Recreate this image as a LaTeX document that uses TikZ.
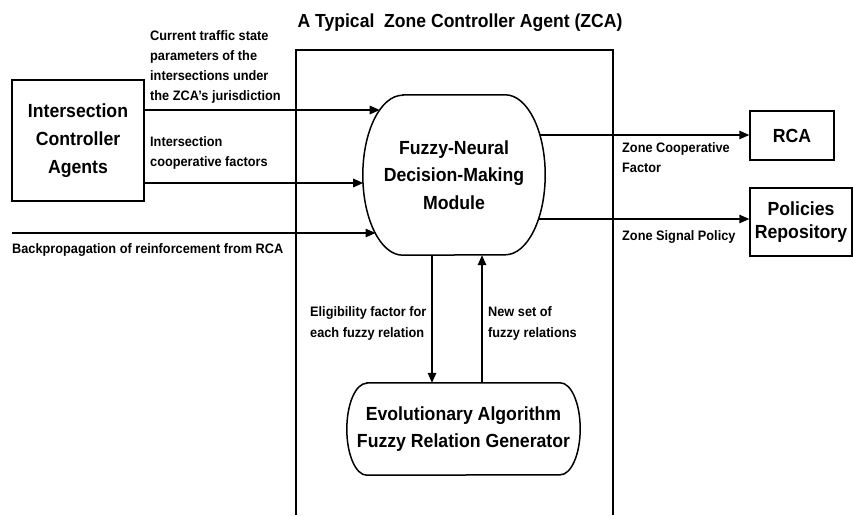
\documentclass[tikz,border=0pt]{standalone}
\usepackage{fontspec}
\setsansfont{Liberation Sans}[FakeStretch=0.93]
\usetikzlibrary{arrows.meta}
\newcommand{\lblfont}{\sffamily\bfseries\fontsize{13.7}{20.3}\selectfont}
\newcommand{\boxfont}{\sffamily\bfseries\fontsize{19}{28}\selectfont}
\newcommand{\headfont}{\sffamily\bfseries\fontsize{18.9}{20}\selectfont}
\tikzset{
  box/.style={draw, line width=1.5pt, align=center, inner sep=0pt, font=\boxfont},
  module/.style={align=center, inner sep=0pt, font=\boxfont},
  lbl/.style={align=left, inner sep=0pt, anchor=base west, font=\lblfont},
  flow/.style={line width=1.5pt, -{Triangle[length=10pt,width=8.5pt]}},
  edge/.style={line width=1.5pt}
}
\begin{document}
\begin{tikzpicture}[x=1pt,y=1pt]
  \useasboundingbox (0,0) rectangle (853,515);
  % zone controller agent frame
  \node[font=\headfont, anchor=base, inner sep=0pt] (zca) at (460,487) {A Typical\ \ Zone Controller Agent (ZCA)};
  \draw[line width=1.2pt] (296,0) |- (613,465) -- (613,0);

  \node[box, minimum width=132, minimum height=121] (ica) at (78,374.5) {Intersection\\Controller\\Agents};
  \node[box, minimum width=84, minimum height=49] (rca) at (792,379.5) {RCA};
  \node[box, minimum width=102, minimum height=68, font=\sffamily\bfseries\fontsize{19}{22.5}\selectfont] (pol) at (801,293) {Policies\\Repository};

  \node[module, minimum width=182, minimum height=160, font=\sffamily\bfseries\fontsize{19}{27.5}\selectfont] (fn) at (454,340) {Fuzzy-Neural\\Decision-Making\\Module};
  \draw[edge] ([xshift=40]fn.north west) -- ([xshift=-40]fn.north east)
    arc[start angle=90, end angle=-90, x radius=40, y radius=80]
    -- ([xshift=40]fn.south west)
    arc[start angle=270, end angle=90, x radius=40, y radius=80] -- cycle;

  \node[module, minimum width=233, minimum height=92, font=\sffamily\bfseries\fontsize{19}{26.5}\selectfont] (ea) at (463.5,86) {Evolutionary Algorithm\\Fuzzy Relation Generator};
  \draw[edge] ([xshift=20]ea.north west) -- ([xshift=-20]ea.north east)
    arc[start angle=90, end angle=-90, x radius=20, y radius=46]
    -- ([xshift=20]ea.south west)
    arc[start angle=270, end angle=90, x radius=20, y radius=46] -- cycle;

  \coordinate (in1) at (379.7,405);
  \coordinate (in2) at (363.2,332);
  \coordinate (in3) at (375.5,282);
  \coordinate (bp) at (12,282);
  \coordinate (o1) at (539.6,380);
  \coordinate (o2) at (538.4,296);
  \coordinate (dn) at (432,0);
  \coordinate (up) at (482,0);

  \draw[flow] (ica.east |- in1) -- (in1);
  \draw[flow] (ica.east |- in2) -- (in2);
  \draw[flow] (bp) -- (in3);
  \draw[flow] (o1) -- (o1 -| rca.west);
  \draw[flow] (o2) -- (o2 -| pol.west);
  \draw[flow] (fn.south -| dn) -- (ea.north -| dn);
  \draw[flow] (ea.north -| up) -- (fn.south -| up);

  \node[lbl] (cur) at (150,414) {Current traffic state\\parameters of the\\intersections under\\the ZCA's jurisdiction};
  \node[lbl] (icf) at (150,348.3) {Intersection\\cooperative factors};
  \node[lbl] (bpl) at (12,261.7) {Backpropagation of reinforcement from RCA};
  \node[lbl] (zcf) at (622,342) {Zone Cooperative\\Factor};
  \node[lbl] (zsp) at (622,275) {Zone Signal Policy};
  \node[lbl] (elf) at (310,178) {Eligibility factor for\\each fuzzy relation};
  \node[lbl] (nsf) at (488,178) {New set of\\fuzzy relations};
\end{tikzpicture}
\end{document}
